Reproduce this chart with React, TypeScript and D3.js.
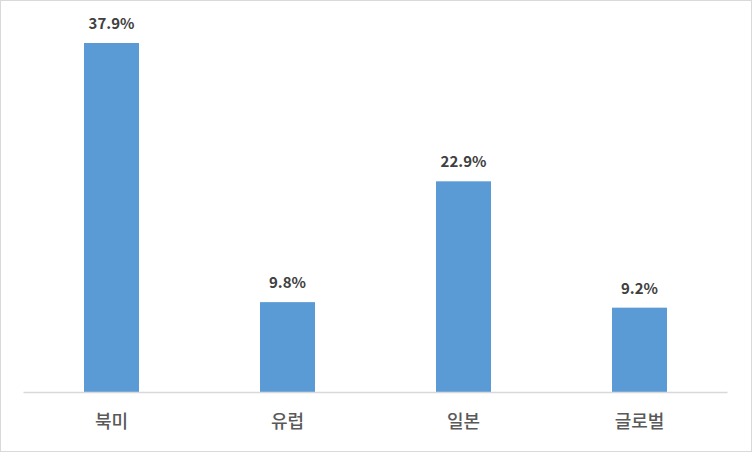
import { useEffect, useRef } from 'react'
import * as d3 from 'd3'

const categories = ['북미', '유럽', '일본', '글로벌']
const shares = [37.9, 9.8, 22.9, 9.2]
const valueLabels = ['37.9%', '9.8%', '22.9%', '9.2%']

export default function App() {
  const svgRef = useRef<SVGSVGElement>(null)

  useEffect(() => {
    if (!svgRef.current) return
    const svg = d3.select(svgRef.current)
    svg.selectAll('*').remove()

    const width = 752
    const height = 452
    const font = '"Noto Sans CJK KR", "Malgun Gothic", sans-serif'

    // chart frame
    svg.append('rect')
      .attr('x', 0.5).attr('y', 0.5)
      .attr('width', width - 1).attr('height', height - 1)
      .attr('fill', '#fff')
      .attr('stroke', '#d9d9d9')

    const x = d3.scaleBand<string>()
      .domain(categories)
      .range([23.5, 727.5])
      .paddingInner(0.6875)
      .paddingOuter(0.34375)

    const y = d3.scaleLinear()
      .domain([0, 37.9])
      .range([392.5, 43])

    const data = categories.map((c, i) => ({ c, v: shares[i], label: valueLabels[i] }))

    svg.append('g')
      .selectAll('rect')
      .data(data)
      .enter()
      .append('rect')
      .attr('x', d => x(d.c)!)
      .attr('y', d => y(d.v))
      .attr('width', x.bandwidth())
      .attr('height', d => y(0) - y(d.v))
      .attr('fill', '#5b9bd5')

    // baseline
    svg.append('line')
      .attr('x1', 23.5).attr('x2', 727.5)
      .attr('y1', 392.5).attr('y2', 392.5)
      .attr('stroke', '#d9d9d9')
      .attr('stroke-width', 1.5)

    // value labels
    svg.append('g')
      .selectAll('text')
      .data(data)
      .enter()
      .append('text')
      .attr('x', d => x(d.c)! + x.bandwidth() / 2)
      .attr('y', d => y(d.v) - 14)
      .attr('text-anchor', 'middle')
      .style('font-family', font)
      .style('font-size', '15px')
      .style('font-weight', 'bold')
      .style('fill', '#404040')
      .text(d => d.label)

    // category labels
    svg.append('g')
      .selectAll('text')
      .data(data)
      .enter()
      .append('text')
      .attr('x', d => x(d.c)! + x.bandwidth() / 2)
      .attr('y', 428)
      .attr('text-anchor', 'middle')
      .style('font-family', font)
      .style('font-size', '18px')
      .style('font-weight', 500)
      .style('fill', '#595959')
      .text(d => d.c)
  }, [])

  return (
    <div style={{ position: 'fixed', left: 0, top: 0 }}>
      <svg ref={svgRef} width={752} height={452} style={{ display: 'block' }} />
    </div>
  )
}
